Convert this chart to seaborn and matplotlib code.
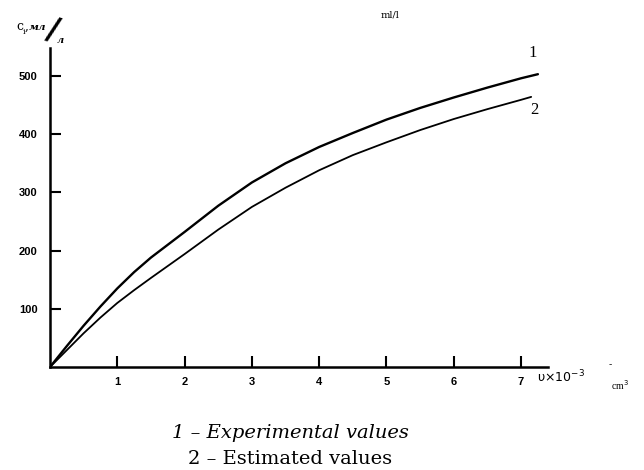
import matplotlib
matplotlib.use("agg")

import matplotlib.pyplot as plt
import seaborn as sns

# volume, x10^-3 cm^3
volume = [0, 0.25, 0.5, 0.75, 1, 1.25, 1.5, 2, 2.5, 3, 3.5, 4, 4.5, 5, 5.5, 6, 6.5, 7, 7.25]
# concentration c_i, ml/l
experimental = [0, 36, 71, 104, 135, 163, 188, 232, 277, 317, 350, 378, 402, 425, 445, 463, 480, 496, 503]

estimated_volume = [0, 0.25, 0.5, 0.75, 1, 1.25, 1.5, 2, 2.5, 3, 3.5, 4, 4.5, 5, 5.5, 6, 6.5, 7, 7.15]
estimated = [0, 29, 58, 85, 110, 132, 153, 194, 236, 275, 308, 338, 364, 386, 407, 426, 443, 459, 464]

x_ticks = [1, 2, 3, 4, 5, 6, 7]
y_ticks = [100, 200, 300, 400, 500]

sns.set_theme(style="ticks")
plt.rcParams["text.color"] = "black"

W, H = 644, 470
fig = plt.figure(figsize=(W / 100, H / 100), dpi=100)
ax = fig.add_axes([50 / W, (H - 367) / H, (548 - 50) / W, (367 - 48) / H])

sns.lineplot(x=volume, y=experimental, color="black", linewidth=1.7, ax=ax)
sns.lineplot(x=estimated_volume, y=estimated, color="black", linewidth=1.3, ax=ax)

ax.set_xlim(0, 7.4)
ax.set_ylim(0, 548)
ax.set_xticks(x_ticks)
ax.set_yticks(y_ticks)
ax.tick_params(direction="in", length=8, width=1.5, labelsize=8,
               color="black", labelcolor="black")
ax.tick_params(axis="x", pad=7)
ax.tick_params(axis="y", pad=9)
for lab in ax.get_xticklabels() + ax.get_yticklabels():
    lab.set_fontweight("bold")
    lab.set_family("Liberation Sans")
for side in ["top", "right"]:
    ax.spines[side].set_visible(False)
for side in ["left", "bottom"]:
    ax.spines[side].set_linewidth(1.8)
    ax.spines[side].set_color("black")


def px(x, y):
    return x / W, 1 - y / H


# y axis label: c_i, мл/л
fig.text(*px(16, 30), "c", fontsize=9, family="DejaVu Serif", va="baseline")
fig.text(*px(22.5, 34), "i", fontsize=6, family="DejaVu Serif", va="baseline")
fig.text(*px(25, 30), ",", fontsize=9, family="DejaVu Serif", va="baseline")
fig.text(*px(29, 30), "мл", fontsize=7.5, family="DejaVu Serif", style="italic",
         fontweight="bold", va="baseline")
fig.text(*px(53, 30), "/", fontsize=23, family="DejaVu Sans", fontweight="bold",
         rotation=-16, ha="center", va="center")
fig.text(*px(57, 43), "л", fontsize=7, family="DejaVu Serif", style="italic",
         fontweight="bold", va="baseline")
fig.text(*px(390, 15), "ml/l", fontsize=7, family="DejaVu Serif", ha="center", va="center")

# curve labels
fig.text(*px(533, 53), "1", fontsize=12, family="Liberation Serif", ha="center", va="center")
fig.text(*px(534, 110), "2", fontsize=12, family="Liberation Serif", ha="center", va="center")

# x axis label
fig.text(*px(537, 377), "υ×10$^{-3}$", fontsize=9, family="DejaVu Sans", ha="left", va="center")
fig.text(*px(610, 365), "-", fontsize=7, family="DejaVu Serif", ha="center", va="center")
fig.text(*px(620, 385), "cm$^3$", fontsize=7, family="Liberation Serif", ha="center", va="center")

# captions below the chart
fig.text(*px(290, 433), "1 – Experimental values", fontsize=14, family="DejaVu Serif",
         style="italic", ha="center", va="center")
fig.text(*px(290, 459), "2 – Estimated values", fontsize=14, family="DejaVu Serif",
         ha="center", va="center")

fig.savefig("out.png", dpi=100)
plt.close(fig)
